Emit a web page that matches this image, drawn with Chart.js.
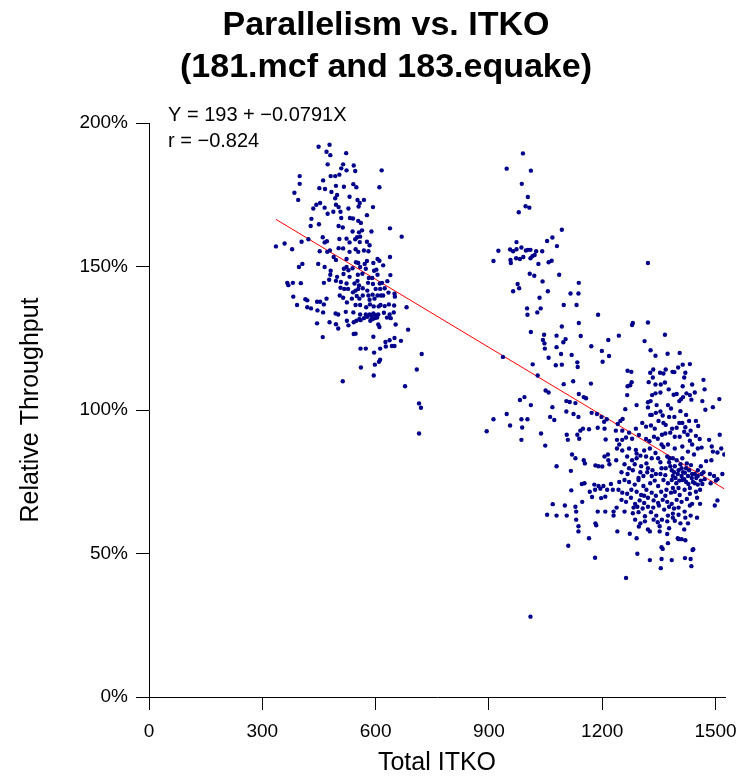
<!DOCTYPE html>
<html>
<head>
<meta charset="utf-8">
<script src="https://cdn.jsdelivr.net/npm/chart.js@4.4.1/dist/chart.umd.min.js"></script>
<style>
  html, body { margin: 0; padding: 0; background: #fff; }
  #wrap { width: 739px; height: 777px; }
</style>
</head>
<body>
<div id="wrap"><canvas id="scatter" width="739" height="777"></canvas></div>
<script>
// ===== DATA (Total ITKO, Relative Throughput %) =====

const leftGroup = [
  [449,191.7],[478,192.4],[470,190.0],[480,188.8],[522,189.5],[473,185.6],[514,185.6],[509,184.2],[542,185.2],[546,183.3],
  [523,183.5],[399,181.5],[481,181.5],[493,181.5],[616,183.5],[399,178.8],[461,180.0],[504,182.0],[385,175.7],[451,177.3],
  [466,177.0],[495,178.1],[516,177.8],[541,178.7],[549,177.6],[610,177.6],[395,173.2],[483,176.0],[498,174.9],[493,173.8],
  [531,174.3],[552,173.2],[569,173.2],[558,172.1],[443,171.5],[435,170.2],[453,172.1],[465,170.5],[495,171.5],[502,170.7],
  [507,169.1],[528,170.2],[555,170.9],[593,170.7],[430,166.6],[450,164.7],[428,164.1],[473,168.4],[488,169.1],[509,166.9],
  [532,166.9],[540,166.7],[554,165.9],[577,167.9],[561,165.2],[502,164.1],[513,163.6],[539,162.2],[556,161.9],[564,162.6],
  [589,162.2],[638,163.3],[669,160.4],[422,159.5],[460,160.2],[471,158.8],[465,158.4],[504,159.6],[523,159.7],[531,158.4],
  [546,159.5],[551,160.2],[559,160.4],[558,158.5],[577,158.6],[584,157.4],[336,157.0],[359,158.0],[379,156.0],[404,158.6],
  [452,155.3],[472,155.1],[479,155.6],[502,156.4],[514,156.3],[547,156.0],[554,155.1],[569,155.6],[581,155.3],[531,155.1],
  [489,153.3],[495,152.3],[523,152.6],[548,151.5],[554,151.2],[577,151.9],[594,151.2],[605,152.6],[638,153.3],[610,152.0],
  [397,149.8],[406,150.9],[448,150.9],[465,149.8],[481,148.5],[516,149.2],[523,149.8],[528,148.7],[539,149.4],[559,149.8],
  [571,150.9],[574,149.2],[596,148.5],[602,148.9],[620,150.4],[480,147.1],[498,146.4],[515,147.4],[531,146.4],[553,147.1],
  [565,147.5],[582,146.0],[591,146.0],[605,147.1],[639,147.0],[366,144.3],[369,143.5],[381,144.3],[402,144.2],[463,144.3],
  [477,145.4],[495,145.0],[508,144.6],[523,144.1],[544,144.1],[552,145.0],[556,143.4],[580,144.3],[593,143.9],[611,144.1],
  [617,144.3],[631,144.9],[507,142.6],[517,142.2],[527,142.2],[540,141.0],[547,141.6],[554,142.2],[566,142.4],[578,141.6],
  [592,140.2],[600,142.2],[612,142.2],[624,142.4],[634,140.9],[650,140.5],[651,139.5],[382,139.5],[392,136.6],[414,138.6],
  [419,138.2],[419,135.8],[429,135.4],[445,137.7],[453,137.7],[463,136.8],[470,138.8],[505,139.9],[514,139.1],[537,138.8],
  [550,139.7],[557,138.8],[566,139.9],[581,139.9],[584,138.4],[597,138.8],[605,139.9],[614,139.9],[620,139.9],[524,137.5],
  [547,136.6],[559,136.6],[575,135.8],[585,136.8],[595,136.1],[608,136.1],[613,136.6],[624,136.2],[635,136.8],[649,136.4],
  [682,135.8],[446,134.7],[461,134.0],[494,133.6],[501,133.3],[521,134.2],[541,134.0],[559,133.3],[574,133.3],[584,133.3],
  [590,132.8],[594,133.6],[601,133.1],[607,133.3],[622,133.9],[637,133.3],[648,134.0],[560,131.3],[569,132.0],[578,132.5],
  [589,131.7],[604,132.2],[630,132.2],[640,132.0],[478,130.6],[495,129.9],[524,131.1],[542,130.6],[549,131.1],[557,131.7],
  [586,131.1],[592,131.7],[598,132.0],[607,129.8],[610,128.9],[653,129.8],[445,130.2],[460,125.4],[501,128.4],[528,129.5],
  [542,126.5],[547,126.6],[594,125.5],[626,123.7],[637,124.3],[643,122.3],[650,122.3],[667,124.1],[650,125.1],[686,128.0],
  [560,121.4],[574,121.4],[612,121.4],[627,122.1],[722,119.5],[596,120.0],[612,117.5],[609,116.8],[598,115.8],[561,114.8],
  [595,112.0],[513,110.0],[709,114.1],[678,108.3],[715,102.3],[720,100.8],[715,91.8]
];

const middleGroup = [
  [990,189.4],[947,184.1],[1011,183.4],[987,178.8],[1003,174.2],[997,171.0],[1007,170.5],[979,168.9],[1093,162.8],[973,158.5],
  [1068,160.1],[1054,158.9],[1080,157.1],[956,155.9],[964,155.3],[925,155.5],[973,156.0],[986,156.6],[998,155.6],[1003,155.8],
  [1010,155.8],[1025,155.3],[1041,155.3],[1015,153.6],[1021,154.0],[1010,152.9],[972,152.9],[982,152.6],[991,153.3],[912,151.9],
  [957,152.3],[958,151.2],[1031,150.9],[1058,151.5],[1066,152.0],[1008,147.5],[1020,146.8],[1086,147.1],[1042,144.8],[1138,144.3],
  [976,143.9],[980,142.4],[964,141.4],[1056,141.4],[1116,140.6],[1137,140.6],[1034,139.1],[1098,136.6],[1132,136.6],[1001,135.4],
  [1028,134.0],[1037,135.4],[1002,133.2],[1189,133.2],[1138,130.3],[1093,129.1],[1011,127.2],[1079,125.9],[1046,126.2],[1043,124.4],
  [1047,123.2],[1048,121.4],[1103,124.7],[1097,123.6],[1143,125.8],[1171,122.2],[1199,120.6],[1216,124.4],[1244,125.9],[1079,121.9],
  [1091,119.5],[1119,119.2],[1058,118.2],[1016,115.9],[1077,115.6],[1093,115.8],[1134,116.6],[1135,115.0],[1201,116.8],[1218,118.8],
  [937,118.5],[1029,112.0],[1050,106.8],[1058,106.1],[1098,109.0],[1123,110.0],[1170,109.2],[1138,105.6],[1151,104.5],[1157,104.1],
  [1105,103.1],[1114,102.8],[1129,102.4],[1068,101.0],[1105,99.5],[1124,98.6],[1137,97.6],[1172,99.0],[1186,98.6],[1198,97.6],
  [1212,96.8],[1165,93.3],[1188,93.8],[1205,95.9],[1206,93.5],[994,104.5],[982,103.5],[1011,101.7],[947,98.6],[986,96.8],
  [1002,96.8],[912,96.8],[894,92.6],[956,94.6],[988,93.9],[1038,91.8],[986,89.6],[1049,87.6],[1062,97.6],[1073,96.5],
  [1106,91.4],[1109,89.6],[1134,91.4],[1139,90.0],[1142,92.8],[1149,93.5],[1209,89.7],[1079,80.4],[1120,84.5],[1129,83.2],
  [1151,82.5],[1154,81.4],[1117,78.8],[1182,80.7],[1190,80.4],[1200,80.3],[1206,83.8],[1215,84.5],[1216,82.5],[1219,81.1],
  [1146,74.2],[1153,74.5],[1118,72.0],[1179,74.0],[1190,73.5],[1181,72.2],[1195,72.6],[1203,73.5],[1213,72.2],[1167,71.5],
  [1173,69.7],[1197,69.3],[1188,64.6],[1208,64.6],[1208,69.8],[1182,60.5],[1184,59.8],[1223,74.2],[1228,72.2],[1147,68.0],
  [1069,67.2],[1101,66.7],[1129,66.3],[1054,63.5],[1079,63.2],[1106,63.2],[1131,64.6],[1131,61.8],[1137,59.5],[1137,57.7],
  [1165,55.3],[1110,52.7],[1181,48.5],[1010,28.0],[1240,57.7],[1230,64.6],[1238,66.0]
];

const rightGroup = [
  [1321,151.2],[1281,130.3],[1279,129.6],[1321,130.5],[1366,126.2],[1312,124.0],[1328,120.8],[1341,118.9],[1373,119.6],[1405,119.9],
  [1432,116.0],[1413,115.8],[1401,114.8],[1391,113.2],[1386,113.3],[1368,114.1],[1362,112.7],[1353,113.0],[1335,114.1],[1327,113.0],
  [1334,111.3],[1323,109.7],[1341,108.9],[1355,108.9],[1366,109.6],[1354,106.1],[1341,105.8],[1332,105.2],[1328,103.1],[1321,102.7],
  [1321,100.9],[1327,98.3],[1344,101.7],[1354,99.5],[1360,98.1],[1374,101.7],[1382,100.5],[1391,97.6],[1404,103.1],[1409,103.8],
  [1414,104.5],[1423,105.8],[1432,105.2],[1436,103.6],[1445,106.1],[1413,108.3],[1417,111.3],[1420,113.0],[1438,108.9],[1468,110.5],
  [1471,107.2],[1493,101.0],[1510,103.8],[1465,103.1],[1473,100.1],[1389,105.3],[1397,105.6],[1376,107.2],[1407,99.6],[1422,98.3],
  [1430,96.2],[1448,96.2],[1454,94.4],[1420,94.0],[1404,95.5],[1385,93.5],[1368,94.8],[1349,96.2],[1339,93.5],[1329,94.6],
  [1316,94.2],[1306,95.5],[1289,93.5],[1267,113.7],[1277,113.3],[1278,109.7],[1274,108.6],[1267,108.3],[1266,105.2],[1291,101.7],
  [1261,100.3],[1254,96.9],[1248,96.2],[1241,95.1],[1236,92.8],[1253,92.8],[1271,92.1],[1253,89.6],[1263,90.4],[1239,89.6],
  [1245,88.0],[1279,90.0],[1297,91.3],[1316,89.9],[1325,89.1],[1337,90.7],[1358,91.4],[1367,91.8],[1380,92.1],[1392,90.7],
  [1405,90.7],[1417,92.4],[1426,91.4],[1434,92.8],[1448,91.0],[1458,89.9],[1483,89.6],[1511,91.4],[1239,86.6],[1253,85.9],
  [1271,86.6],[1289,86.1],[1291,84.8],[1311,85.9],[1326,86.6],[1341,85.0],[1362,87.1],[1374,88.0],[1392,86.6],[1412,87.3],
  [1427,85.5],[1438,88.0],[1453,86.6],[1463,86.9],[1490,87.3],[1493,85.5],[1515,86.6],[1523,84.5],[1505,85.2],[1489,82.5],
  [1475,82.2],[1461,80.4],[1237,82.5],[1259,81.1],[1279,82.5],[1291,83.2],[1303,80.4],[1317,81.4],[1331,83.2],[1348,83.2],
  [1354,81.8],[1372,83.8],[1387,83.2],[1397,82.5],[1412,83.2],[1424,81.4],[1435,80.8],[1453,79.0],[1468,78.3],[1485,77.7],
  [1496,77.0],[1505,75.9],[1518,77.7],[1251,78.3],[1267,77.7],[1281,79.0],[1296,76.3],[1309,77.0],[1319,78.3],[1333,79.0],
  [1354,77.7],[1368,79.7],[1380,80.4],[1390,78.3],[1402,79.0],[1410,79.7],[1419,78.1],[1427,77.0],[1438,77.7],[1449,76.3],
  [1461,75.4],[1471,75.9],[1487,74.5],[1501,75.4],[1245,74.9],[1259,75.6],[1271,74.9],[1286,74.0],[1296,75.6],[1309,73.5],
  [1327,74.5],[1339,75.4],[1348,73.5],[1362,75.6],[1374,74.5],[1384,75.6],[1394,76.3],[1404,75.4],[1417,75.9],[1428,74.2],
  [1440,74.9],[1453,74.0],[1465,74.2],[1243,72.2],[1253,71.2],[1266,70.8],[1277,72.2],[1291,71.5],[1303,70.4],[1317,72.2],
  [1331,71.2],[1342,70.1],[1356,71.5],[1370,72.2],[1382,71.2],[1392,71.5],[1405,70.4],[1418,72.2],[1432,70.8],[1448,71.5],
  [1459,72.2],[1251,68.7],[1263,68.0],[1276,69.4],[1287,67.3],[1299,68.5],[1311,67.6],[1321,69.4],[1336,68.5],[1348,67.6],
  [1360,68.7],[1372,68.0],[1384,67.3],[1397,68.7],[1410,68.0],[1424,69.0],[1438,67.3],[1451,69.4],[1498,66.7],[1505,68.5],
  [1283,66.0],[1293,66.3],[1307,65.7],[1321,66.3],[1335,66.0],[1350,66.7],[1364,65.3],[1377,66.3],[1390,65.7],[1402,66.0],
  [1418,64.6],[1432,66.7],[1459,67.3],[1281,64.0],[1296,64.4],[1313,63.0],[1329,64.4],[1343,63.2],[1358,61.8],[1374,63.2],
  [1387,63.9],[1402,63.5],[1420,62.5],[1434,63.2],[1451,62.5],[1287,61.8],[1301,60.5],[1313,61.2],[1347,60.9],[1372,61.2],
  [1392,61.4],[1427,60.5],[1297,59.4],[1321,58.4],[1352,59.5],[1377,58.8],[1417,58.4],[1273,56.9],[1291,55.3],[1326,57.7],
  [1352,57.7],[1372,56.8],[1400,55.3],[1410,55.0],[1420,54.6],[1357,52.2],[1360,51.6],[1293,49.9],[1326,47.7],[1357,48.1],
  [1384,47.7],[1419,48.4],[1434,48.1],[1439,51.2],[1441,51.5],[1436,45.6],[1355,44.9],[1263,41.5],[1374,53.6],[1402,55.0],
  [1230,63.2],[1377,81.8],[1384,79.0],[1392,80.4],[1400,77.7],[1407,81.1],[1414,78.3],[1422,79.7],[1430,79.0],[1437,76.3],
  [1445,77.7],[1387,77.0],[1396,74.5],[1410,77.0],[1422,74.9],[1432,72.8],[1445,74.5],[1378,83.2],[1367,77.3],[1357,79.7],
  [1412,75.6],[1402,72.8],[1387,72.8],[1463,77.7],[1453,77.0],[1342,77.7],[1331,77.0],[1321,79.7],[1301,78.3],[1286,81.1],
  [1271,79.7],[1347,90.0],[1331,98.3],[1342,99.0],[1362,95.5],[1377,97.6],[1397,93.8],[1412,95.5],[1432,89.3],[1443,84.5],
  [1357,88.0],[1316,83.8],[1301,84.1],[1266,83.8],[1259,64.6],[1336,61.8],[1387,62.5],[1407,60.5],[1367,70.1],[1311,70.1]
];

const xTicks = [0, 300, 600, 900, 1200, 1500];
const yTicks = [0, 50, 100, 150, 200];

// least squares line as printed on the plot
const fitIntercept = 193;
const fitSlope = -0.0791;
const fitText = 'Y = 193 + \u22120.0791X';
const corrText = 'r = \u22120.824';
const titleLines = ['Parallelism vs. ITKO', '(181.mcf and 183.equake)'];

// ===== CHART =====

const FONT = '"Liberation Sans", Arial, Helvetica, sans-serif';
const allPoints = leftGroup.concat(middleGroup, rightGroup).map(p => ({ x: p[0], y: p[1] }));
const xs = allPoints.map(p => p.x);
const xMin = Math.min(...xs), xMax = Math.max(...xs);
const fitLine = [xMin, xMax].map(x => ({ x: x, y: fitIntercept + fitSlope * x }));

const plotText = {
  id: 'plotText',
  beforeDraw(chart) {
    const ctx = chart.ctx;
    ctx.save();
    ctx.fillStyle = '#fff';
    ctx.fillRect(0, 0, chart.width, chart.height);
    ctx.restore();
  },
  afterDraw(chart) {
    const ctx = chart.ctx;
    ctx.save();
    ctx.fillStyle = '#000';
    ctx.textBaseline = 'middle';
    ctx.textAlign = 'center';
    ctx.font = 'bold 34px ' + FONT;
    ctx.fillText(titleLines[0], 386, 26);
    ctx.fillText(titleLines[1], 386, 68);
    ctx.textAlign = 'left';
    ctx.font = '20px ' + FONT;
    ctx.fillText(fitText, 168, 115);
    ctx.fillText(corrText, 168, 141);
    ctx.restore();
  }
};

new Chart(document.getElementById('scatter'), {
  type: 'scatter',
  data: {
    datasets: [
      {
        label: 'runs',
        data: allPoints,
        backgroundColor: '#00008B',
        borderWidth: 0,
        pointRadius: 2.2,
        pointHoverRadius: 2.2
      },
      {
        type: 'line',
        label: 'fit',
        data: fitLine,
        borderColor: '#FF0000',
        borderWidth: 1,
        pointRadius: 0,
        fill: false
      }
    ]
  },
  options: {
    responsive: false,
    animation: false,
    layout: { padding: { top: 123, right: 14, bottom: 0, left: 0 } },
    plugins: {
      legend: { display: false },
      tooltip: { enabled: false }
    },
    scales: {
      x: {
        type: 'linear',
        min: 0, max: 1525,
        afterBuildTicks: s => { s.ticks = xTicks.map(v => ({ value: v })); },
        afterFit: s => { s.height = 80; s.paddingLeft = 0; s.paddingRight = 0; },
        grid: { drawOnChartArea: false, drawTicks: true, tickLength: 13, color: '#000' },
        border: { display: true, color: '#000', width: 1 },
        ticks: { color: '#000', font: { family: FONT, size: 19 }, padding: 10, maxRotation: 0, autoSkip: false, callback: v => String(v) },
        title: { display: true, text: 'Total ITKO', color: '#000', font: { family: FONT, size: 25, lineHeight: 1 }, padding: { top: 0, bottom: 1 } }
      },
      y: {
        min: 0, max: 200,
        afterBuildTicks: s => { s.ticks = yTicks.map(v => ({ value: v })); },
        afterFit: s => { s.width = 149; },
        grid: { drawOnChartArea: false, drawTicks: true, tickLength: 13, color: '#000' },
        border: { display: true, color: '#000', width: 1 },
        ticks: { color: '#000', font: { family: FONT, size: 19 }, padding: 8, callback: v => v + '%' },
        title: { display: true, text: 'Relative Throughput', color: '#000', font: { family: FONT, size: 25, lineHeight: 1.2 }, padding: { top: 16, bottom: 0 } }
      }
    }
  },
  plugins: [plotText]
});
</script>
</body>
</html>
